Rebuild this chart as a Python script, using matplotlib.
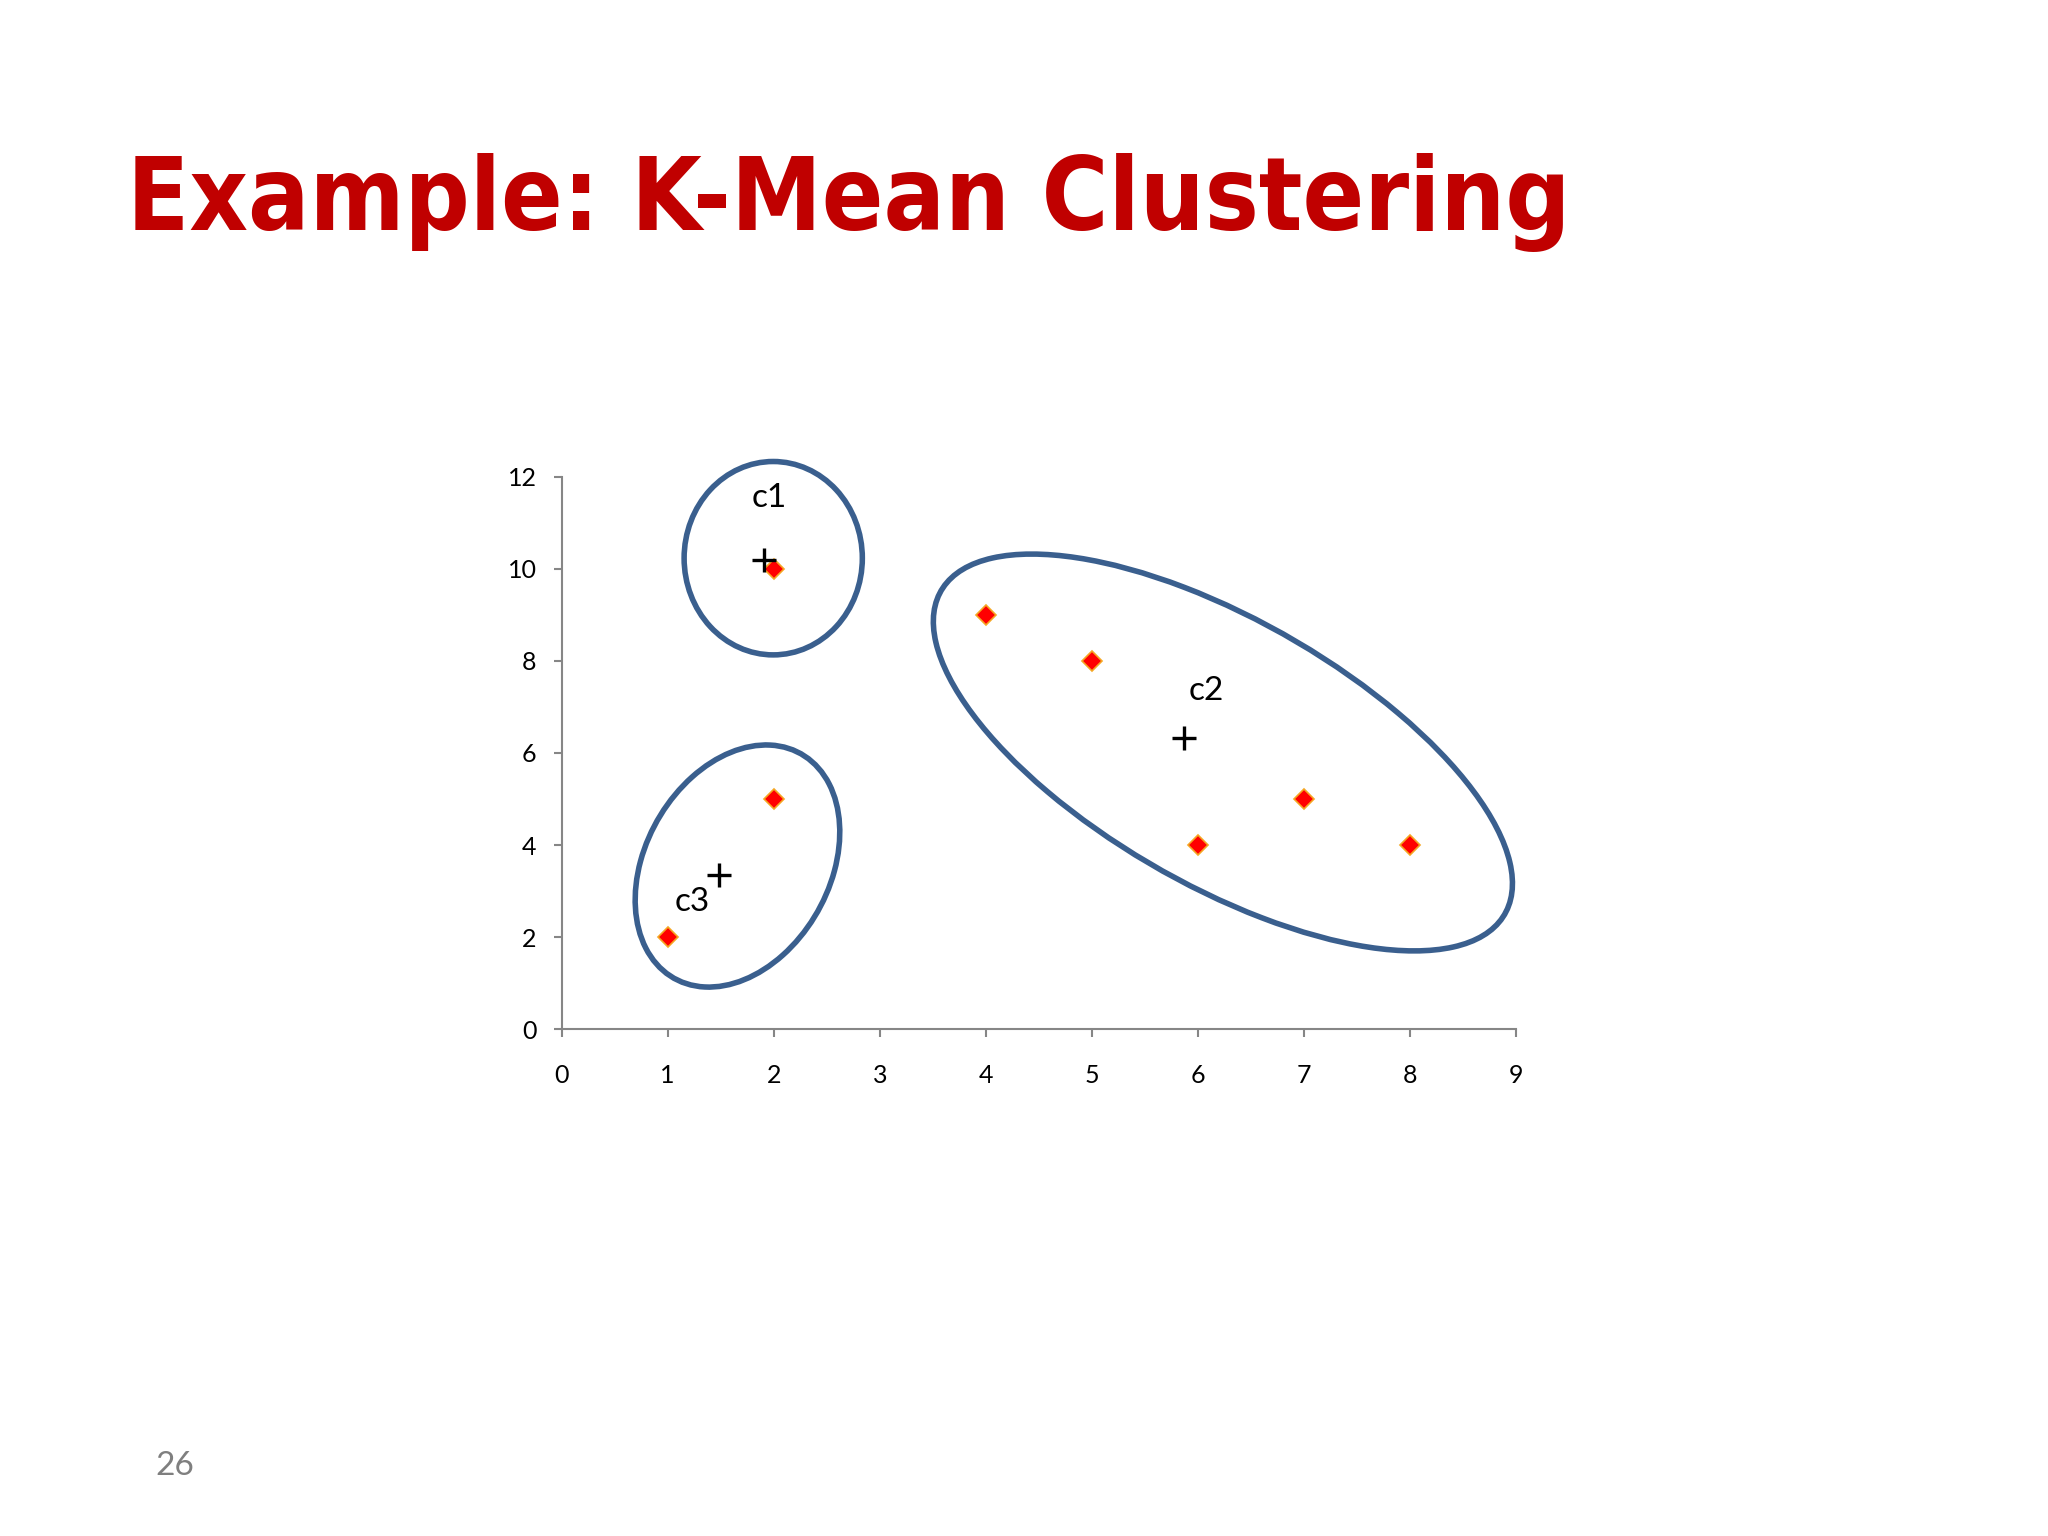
import matplotlib.pyplot as plt
from matplotlib.patches import Ellipse

# data points
xs = [1, 2, 2, 4, 5, 6, 7, 8]
ys = [2, 5, 10, 9, 8, 4, 5, 4]

# centroids (as drawn on the slide) and their labels
cent_x = [1.91, 5.87, 1.48]
cent_y = [10.18, 6.33, 3.35]
cent_names = ['c1', 'c2', 'c3']
label_x = [1.96, 6.08, 1.23]
label_y = [11.54, 7.35, 2.77]

# cluster outlines: centre x, centre y, width, height, angle (data units)
ell_cx = [1.995, 6.234, 1.658]
ell_cy = [10.23, 6.01, 3.544]
ell_w = [1.68, 9.50, 5.29]
ell_h = [4.20, 3.72, 1.84]
ell_ang = [0, -62.8, 83.3]

xticks = list(range(0, 10))
yticks = list(range(0, 13, 2))

fig = plt.figure(figsize=(20.48, 15.36), dpi=100)
fig.patch.set_facecolor('white')

fig.text(127 / 2048, 1 - 202 / 1536, 'Example: K-Mean Clustering',
         family='DejaVu Sans', fontweight='bold', fontstretch='condensed',
         fontsize=73, color='#C00000', ha='left', va='center')
fig.text(175 / 2048, 1 - 1466 / 1536, '26', family='Lato', fontsize=24,
         color='#7F7F7F', ha='center', va='center')

ax = fig.add_axes([561.6 / 2048, 1 - 1029.2 / 1536,
                   (1516.3 - 561.6) / 2048, (1029.2 - 476.7) / 1536])
ax.set_xlim(0, 9)
ax.set_ylim(0, 12)
ax.set_xticks(xticks)
ax.set_yticks(yticks)
for s in ['top', 'right']:
    ax.spines[s].set_visible(False)
for s in ['left', 'bottom']:
    ax.spines[s].set_color('#868686')
    ax.spines[s].set_linewidth(1.5)
ax.tick_params(axis='both', colors='#868686', length=6, width=1.5,
               labelcolor='black', labelsize=18)
ax.tick_params(axis='x', pad=19)
ax.tick_params(axis='y', pad=12)
for lab in ax.get_xticklabels() + ax.get_yticklabels():
    lab.set_family('Lato')

for cx, cy, w, h, a in zip(ell_cx, ell_cy, ell_w, ell_h, ell_ang):
    ax.add_patch(Ellipse((cx, cy), w, h, angle=a, fill=False,
                         edgecolor='#3A5F8E', linewidth=4, clip_on=False))

ax.plot(xs, ys, 'D', color='#FF0000', markeredgecolor='#F5A623',
        markeredgewidth=1.2, markersize=10, clip_on=False, zorder=3)
ax.plot(cent_x, cent_y, '+', color='black', markersize=17,
        markeredgewidth=2.4, clip_on=False, zorder=4)
for name, lx, ly in zip(cent_names, label_x, label_y):
    ax.text(lx, ly, name, family='Lato', fontsize=24, ha='center',
            va='center', color='black')

fig.savefig('out.png', dpi=100, facecolor='white')
